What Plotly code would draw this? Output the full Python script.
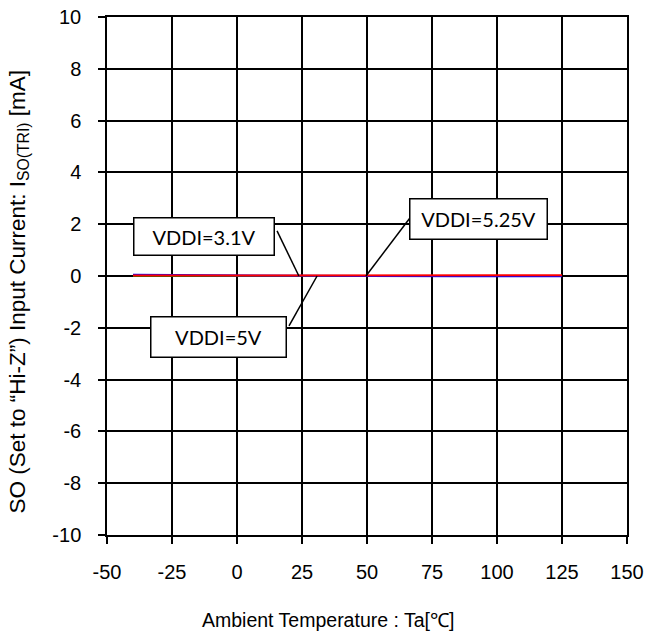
import plotly.graph_objects as go

temps = [-40, 0, 25, 50, 85, 125]
vddi_3v1 = [0.05, 0.02, 0.01, 0.0, -0.01, -0.01]
vddi_5v = [0.0, 0.0, 0.0, 0.0, 0.0, 0.0]
vddi_5v25 = [0.02, 0.02, 0.03, 0.03, 0.03, 0.03]

x_ticks = [-50, -25, 0, 25, 50, 75, 100, 125, 150]
y_ticks = [-10, -8, -6, -4, -2, 0, 2, 4, 6, 8, 10]

fig = go.Figure()
fig.add_trace(go.Scatter(x=temps, y=vddi_5v, mode="lines", line=dict(color="#008000", width=2), name="VDDI=5V"))
fig.add_trace(go.Scatter(x=temps, y=vddi_3v1, mode="lines", line=dict(color="#0000FF", width=2), name="VDDI=3.1V"))
fig.add_trace(go.Scatter(x=temps, y=vddi_5v25, mode="lines", line=dict(color="#FF0000", width=2), name="VDDI=5.25V"))

# labels: (text, box x, box y, box w, box h, leader start x, start y, end x, end y)
labels = [
    ("VDDI=3.1V", -12.7, 1.54, 142, 39, 15.4, 1.74, 23.8, 0.0),
    ("VDDI=5.25V", 92.7, 2.2, 139, 42, 66.5, 2.24, 49.6, 0.0),
    ("VDDI=5V", -7.3, -2.36, 137, 42, 20.0, -1.93, 30.8, 0.0),
]
for text, bx, by, bw, bh, sx, sy, ex, ey in labels:
    fig.add_shape(type="line", x0=sx, y0=sy, x1=ex, y1=ey, xref="x", yref="y",
                  line=dict(color="black", width=1.5))
    fig.add_annotation(x=bx, y=by, xref="x", yref="y", text=text, showarrow=False,
                       font=dict(family="Lato, Open Sans, sans-serif", size=20, color="black"),
                       bgcolor="white", bordercolor="black", borderwidth=1.5,
                       borderpad=4, width=bw - 11, height=bh - 11)

tickfont = dict(family="Liberation Sans, Arial, sans-serif", size=20, color="black")
axis_common = dict(showline=True, linecolor="black", linewidth=1.5, mirror=True,
                   showgrid=True, gridcolor="black", gridwidth=1.5,
                   ticks="outside", ticklen=7, tickcolor="black", tickwidth=1.5,
                   zeroline=False, automargin=False, tickfont=tickfont,
                   ticklabeloverflow="allow")

fig.update_xaxes(range=[-50, 150], tickvals=x_ticks, ticktext=[str(v) for v in x_ticks],
                 ticklabelstandoff=11, **axis_common)
fig.update_yaxes(range=[-10, 10], tickvals=y_ticks, ticktext=[str(v) for v in y_ticks],
                 ticklabelstandoff=13, **axis_common)

# axis titles (placed as paper annotations to match the original positions)
fig.add_annotation(x=0.425, y=-0.165, xref="paper", yref="paper", xanchor="center", yanchor="middle",
                   text="Ambient Temperature : Ta[℃]", showarrow=False,
                   font=dict(family="Liberation Sans, Arial, sans-serif", size=19.5, color="black"))
fig.add_annotation(x=-0.171, y=0.47, xref="paper", yref="paper", xanchor="center", yanchor="middle",
                   textangle=-90,
                   text="SO (Set to “Hi-Z”) Input Current: I<sub>SO(TRI)</sub> [mA]", showarrow=False,
                   font=dict(family="Liberation Sans, Arial, sans-serif", size=22.5, color="black"))

fig.update_layout(width=656, height=642, margin=dict(l=107, r=29, t=17, b=107),
                  plot_bgcolor="white", paper_bgcolor="white", showlegend=False)

fig.write_html("out.html", config={"displayModeBar": False},
               post_script="document.body.style.margin='0px';")
